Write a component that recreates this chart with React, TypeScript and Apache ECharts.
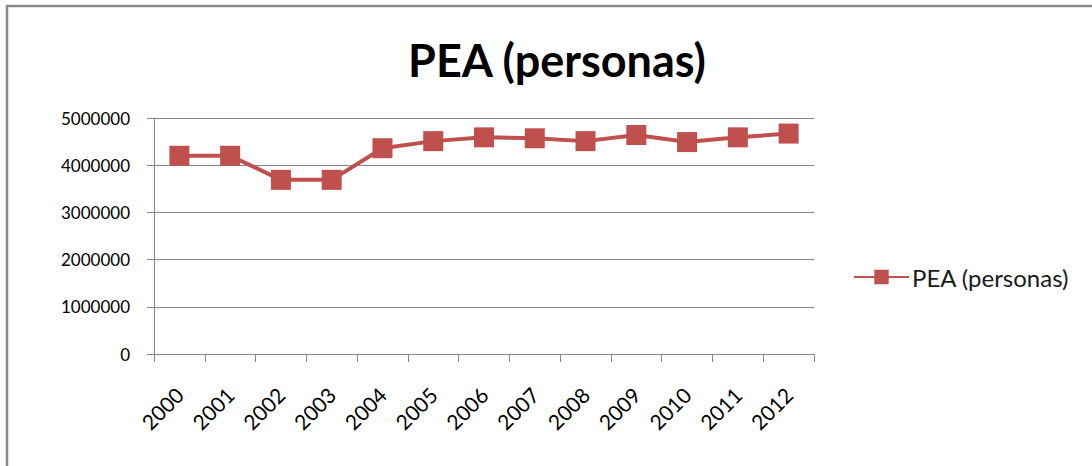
import React, { useEffect, useRef } from "react";
import * as echarts from "echarts";

const titleText = "PEA (personas)";
const seriesName = "PEA (personas)";
const years = ["2000", "2001", "2002", "2003", "2004", "2005", "2006", "2007", "2008", "2009", "2010", "2011", "2012"];
const pea = [4200000, 4200000, 3690000, 3690000, 4360000, 4510000, 4590000, 4570000, 4510000, 4640000, 4490000, 4590000, 4670000];
const yMin = 0;
const yMax = 5000000;
const yStep = 1000000;

const FONT = "Lato, 'Open Sans', sans-serif";
const RED = "#C0504D";
const GRAY = "#878787";

export default function App() {
  const ref = useRef<HTMLDivElement>(null);
  useEffect(() => {
    document.body.style.margin = "0";
    const chart = echarts.init(ref.current!, undefined, { renderer: "svg" });
    chart.setOption({
      animation: false,
      backgroundColor: "#ffffff",
      title: {
        text: titleText,
        left: 552,
        textAlign: "center",
        top: 32,
        textStyle: { fontFamily: FONT, fontSize: 45, fontWeight: "bold", color: "#000" },
      },
      graphic: [
        {
          type: "rect",
          shape: { x: 7, y: 6, width: 1300, height: 700 },
          style: { fill: "none", stroke: "#8a8a8a", lineWidth: 2.5 },
          silent: true,
        },
      ],
      legend: {
        left: 853,
        top: 265,
        padding: 0,
        itemWidth: 55,
        itemHeight: 18,
        itemGap: 4,
        textStyle: { fontFamily: FONT, fontSize: 24, color: "#1a1a1a", padding: [0, 0, 0, -2] },
        data: [seriesName],
      },
      grid: { left: 154, right: 278, top: 118, bottom: 112, containLabel: false },
      xAxis: {
        type: "category",
        data: years,
        boundaryGap: true,
        axisLine: { lineStyle: { color: GRAY, width: 1 } },
        axisTick: { show: true, length: 8, lineStyle: { color: GRAY } },
        axisLabel: {
          rotate: 45,
          margin: 37,
          fontFamily: FONT,
          fontSize: 21,
          color: "#000",
        },
      },
      yAxis: {
        type: "value",
        min: yMin,
        max: yMax,
        interval: yStep,
        axisLine: { show: true, lineStyle: { color: GRAY, width: 1 } },
        axisTick: { show: true, length: 7, lineStyle: { color: GRAY } },
        splitLine: { lineStyle: { color: GRAY, width: 1 } },
        axisLabel: {
          fontFamily: FONT,
          fontSize: 17,
          color: "#000",
          margin: 24,
          formatter: (v: number) => String(v),
        },
      },
      series: [
        {
          name: seriesName,
          type: "line",
          data: pea,
          symbol: "rect",
          symbolSize: 20,
          lineStyle: { color: RED, width: 4 },
          itemStyle: { color: RED },
        },
      ],
    });
    return () => chart.dispose();
  }, []);
  return <div ref={ref} style={{ width: 1092, height: 466 }} />;
}
